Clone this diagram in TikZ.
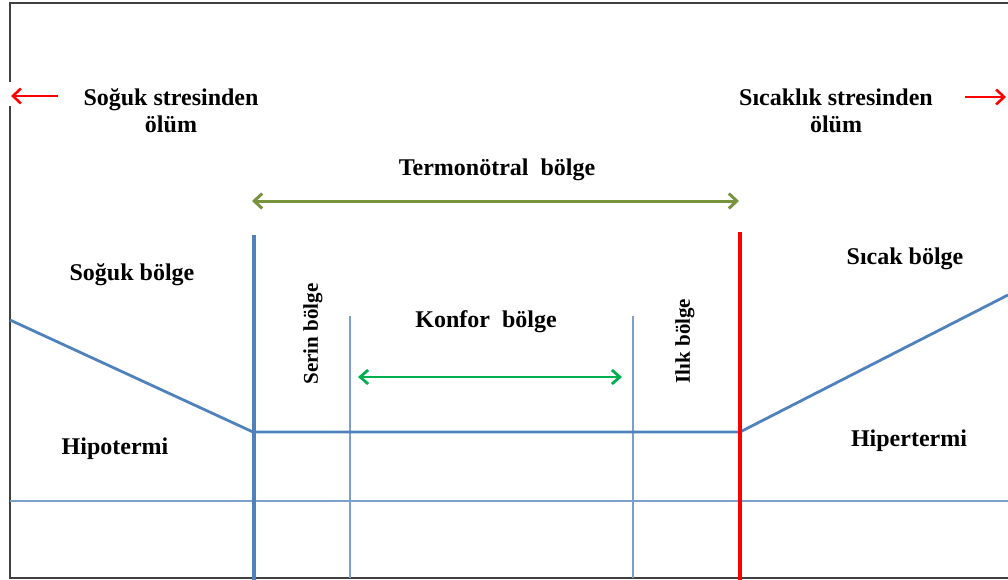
\documentclass[tikz,border=0pt]{standalone}
\usepackage{fontspec}
\setmainfont{Liberation Serif}
\usetikzlibrary{arrows.meta}
\definecolor{lblue}{HTML}{4F81BD}
\definecolor{olivegreen}{HTML}{77933C}
\definecolor{kgreen}{HTML}{00B050}
\definecolor{bordergray}{HTML}{404040}
\begin{document}
\begin{tikzpicture}[x=1pt,y=-1pt,
  lbl/.style={font=\bfseries\fontsize{24}{27}\selectfont, align=center, inner sep=0pt},
  vlbl/.style={font=\bfseries\fontsize{21}{24}\selectfont, inner sep=0pt, rotate=90},
  borderline/.style={draw=bordergray, line width=1.6pt},
  redarrow/.style={draw=red, line width=2.6pt, -{Straight Barb[length=8pt,width=15pt]}},
  olivearrow/.style={draw=olivegreen, line width=3pt, {Straight Barb[length=8pt,width=15pt]}-{Straight Barb[length=8pt,width=15pt]}},
  greenarrow/.style={draw=kgreen, line width=2.8pt, {Straight Barb[length=8pt,width=14pt]}-{Straight Barb[length=8pt,width=14pt]}},
  thickblue/.style={draw=lblue, line width=4.5pt},
  thinblue/.style={draw=lblue!75, line width=2pt},
  curveblue/.style={draw=lblue, line width=2.8pt, line join=round},
  redline/.style={draw=red, line width=3.5pt}]
\useasboundingbox (0,0) rectangle (1008,580);
% border
\coordinate (tl) at (10,3);
\coordinate (tr) at (1008,3);
\coordinate (gapT) at (10,82);
\coordinate (gapB) at (10,106);
\coordinate (bl) at (10,578);
\coordinate (br) at (1008,578);
\draw[borderline] (gapT) -- (tl) -- (tr);
\draw[borderline] (gapB) -- (bl) -- (br);
% horizontal thin line
\coordinate (hL) at (10,501);
\coordinate (hR) at (1008,501);
\draw[thinblue] (hL) -- (hR);
% thin verticals
\coordinate (v1t) at (350,316);
\coordinate (v1b) at (350,578);
\coordinate (v2t) at (633,316);
\coordinate (v2b) at (633,578);
\draw[thinblue] (v1t) -- (v1b);
\draw[thinblue] (v2t) -- (v2b);
% curve
\coordinate (c0) at (10,320);
\coordinate (c1) at (253,432);
\coordinate (c2) at (740,432);
\coordinate (c3) at (1008,295);
\draw[curveblue] (c0) -- (c1) -- (c2) -- (c3);
% thick blue vertical and red vertical
\coordinate (tbt) at (254,235);
\coordinate (tbb) at (254,580);
\draw[thickblue] (tbt) -- (tbb);
\coordinate (rvt) at (740,232);
\coordinate (rvb) at (740,580);
\draw[redline] (rvt) -- (rvb);
% red arrows
\coordinate (la0) at (58,96);
\coordinate (la1) at (11,96);
\draw[redarrow] (la0) -- (la1);
\coordinate (ra0) at (965,97);
\coordinate (ra1) at (1006,97);
\draw[redarrow] (ra0) -- (ra1);
% labels
\node[lbl] (cold) at (171,111) {Soğuk stresinden\\ölüm};
\node[lbl] (hot) at (836,111) {Sıcaklık stresinden\\ölüm};
\node[lbl] (termo) at (497,170) {Termonötral\ \ bölge};
\coordinate (ta0) at (252,201);
\coordinate (ta1) at (739,201);
\draw[olivearrow] (ta0) -- (ta1);
\node[lbl] (soguk) at (132,275) {Soğuk bölge};
\node[lbl] (sicak) at (905,259) {Sıcak bölge};
\node[lbl] (konfor) at (486,322) {Konfor\ \ bölge};
\coordinate (ka0) at (358,377);
\coordinate (ka1) at (622,377);
\draw[greenarrow] (ka0) -- (ka1);
\node[vlbl] (serin) at (313,334) {Serin bölge};
\node[vlbl] (ilik) at (685,341) {Ilık bölge};
\node[lbl] (hipo) at (115,449) {Hipotermi};
\node[lbl] (hiper) at (909,441) {Hipertermi};
\end{tikzpicture}
\end{document}
